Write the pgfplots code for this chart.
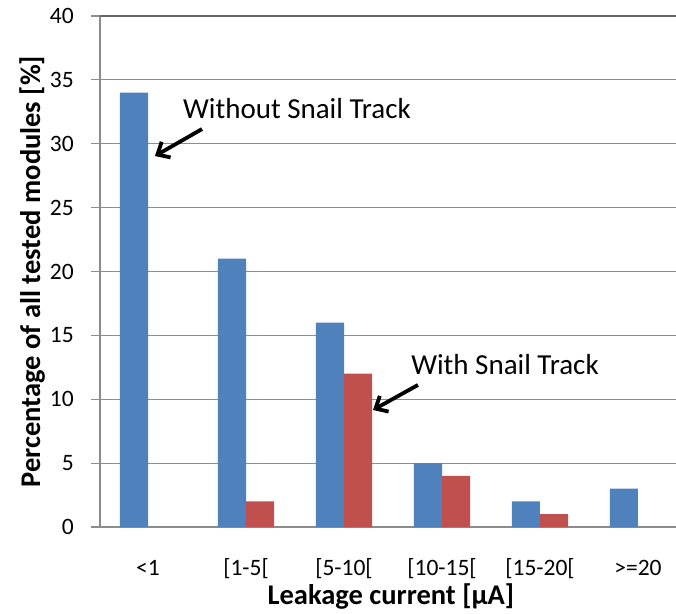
\documentclass[border=0pt]{standalone}
\usepackage{fontspec}
\setmainfont{Carlito}
\usepackage{pgfplots}
\pgfplotsset{compat=1.18}
\usetikzlibrary{arrows.meta}
\definecolor{xlblue}{HTML}{4F81BD}
\definecolor{xlred}{HTML}{C0504D}
\definecolor{gridgray}{HTML}{8C8C8C}
\begin{document}
\begin{tikzpicture}
\useasboundingbox (-100bp,-87bp) rectangle (576bp,527bp);
\begin{axis}[
  scale only axis, width=576bp, height=511bp,
  xmin=-0.49, xmax=5.388, ymin=0, ymax=40,
  ytick={0,5,...,40},
  xtick={0,1,2,3,4,5},
  xticklabels={{<1},{[1-5[},{[5-10[},{[10-15[},{[15-20[},{>=20}},
  /pgf/number format/assume math mode=true,
  tick label style={font=\fontsize{23.5bp}{26bp}\selectfont},
  axis x line*=bottom, axis y line*=left,
  axis line style={gridgray, line width=1.2bp},
  ymajorgrids, grid style={gridgray, line width=1.2bp},
  x tick style={draw=none},
  y tick style={gridgray, line width=1.2bp},
  tick align=outside, major tick length=9bp,
  yticklabel style={anchor=east, inner sep=0pt, xshift=-17bp},
  xticklabel style={anchor=base, inner sep=0pt, yshift=-39bp},
  xlabel={\bfseries Leakage current [µA]},
  ylabel={\bfseries Percentage of all tested modules [\%]},
  label style={font=\fontsize{28.5bp}{32bp}\selectfont},
  xlabel style={at={(axis description cs:0.505,0)}, anchor=base, yshift=-77bp, inner sep=0pt},
  ylabel style={at={(axis description cs:-0.104,0.5)}, anchor=base, inner sep=0pt},
  clip=false,
]
\addplot[ybar, bar width=0.286, bar shift=-0.143, fill=xlblue, draw=none]
  coordinates {(0,34) (1,21) (2,16) (3,5) (4,2) (5,3)};
\addplot[ybar, bar width=0.286, bar shift=0.143, fill=xlred, draw=none]
  coordinates {(1,2) (2,12) (3,4) (4,1)};
\draw[black!60, line width=1.5bp] (axis cs:-0.49,40) -- (axis cs:5.388,40);
\draw[line width=3.8bp, -{Straight Barb[length=10bp,width=18bp]}] (axis cs:0.551,31.15) -- (axis cs:0.071,29.04);
\draw[line width=3.8bp, -{Straight Barb[length=10bp,width=18bp]}] (axis cs:2.755,11.12) -- (axis cs:2.296,9.16);
\node[anchor=base, inner sep=0pt, font=\fontsize{29bp}{33bp}\selectfont] at (axis cs:1.52,31.94) {Without Snail Track};
\node[anchor=base, inner sep=0pt, font=\fontsize{29bp}{33bp}\selectfont] at (axis cs:3.643,11.9) {With Snail Track};
\end{axis}
\end{tikzpicture}
\end{document}
